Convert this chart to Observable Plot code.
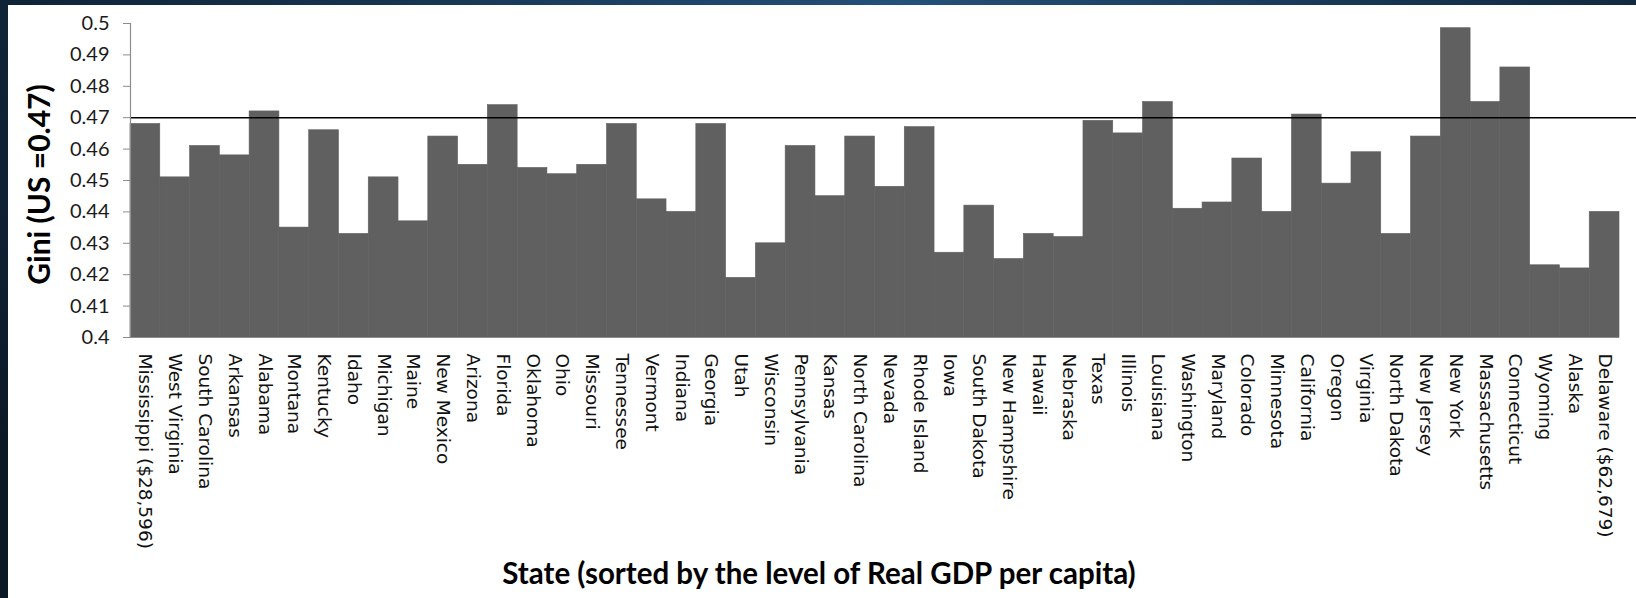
<!DOCTYPE html>
<html>
<head>
<meta charset="utf-8">
<script src="https://cdn.jsdelivr.net/npm/d3@7"></script>
<script src="https://cdn.jsdelivr.net/npm/@observablehq/plot@0.6"></script>
<style>
  html, body { margin: 0; padding: 0; }
  body {
    width: 1636px; height: 598px; overflow: hidden; position: relative;
    background: radial-gradient(ellipse 70% 120% at 55% 0%, #24507a 0%, #163450 45%, #0b1826 100%);
  }
  #panel { position: absolute; left: 8px; top: 5px; width: 1628px; height: 593px; background: #fff; }
</style>
</head>
<body>
<div id="panel"></div>
<script>
// States sorted by real GDP per capita (lowest to highest)
const states = [
  "Mississippi ($28,596)", "West Virginia", "South Carolina", "Arkansas", "Alabama",
  "Montana", "Kentucky", "Idaho", "Michigan", "Maine",
  "New Mexico", "Arizona", "Florida", "Oklahoma", "Ohio",
  "Missouri", "Tennessee", "Vermont", "Indiana", "Georgia",
  "Utah", "Wisconsin", "Pennsylvania", "Kansas", "North Carolina",
  "Nevada", "Rhode Island", "Iowa", "South Dakota", "New Hampshire",
  "Hawaii", "Nebraska", "Texas", "Illinois", "Louisiana",
  "Washington", "Maryland", "Colorado", "Minnesota", "California",
  "Oregon", "Virginia", "North Dakota", "New Jersey", "New York",
  "Massachusetts", "Connecticut", "Wyoming", "Alaska", "Delaware ($62,679)"
];

// Gini coefficient per state
const gini = [
  0.468, 0.451, 0.461, 0.458, 0.472,
  0.435, 0.466, 0.433, 0.451, 0.437,
  0.464, 0.455, 0.474, 0.454, 0.452,
  0.455, 0.468, 0.444, 0.440, 0.468,
  0.419, 0.430, 0.461, 0.445, 0.464,
  0.448, 0.467, 0.427, 0.442, 0.425,
  0.433, 0.432, 0.469, 0.465, 0.475,
  0.441, 0.443, 0.457, 0.440, 0.471,
  0.449, 0.459, 0.433, 0.464, 0.4985,
  0.475, 0.486, 0.423, 0.422, 0.440
];

// National reference level
const usGini = 0.47;

// Y axis ticks and their labels
const yTicks = [0.4, 0.41, 0.42, 0.43, 0.44, 0.45, 0.46, 0.47, 0.48, 0.49, 0.5];
const yTickLabels = ["0.4", "0.41", "0.42", "0.43", "0.44", "0.45", "0.46", "0.47", "0.48", "0.49", "0.5"];

const yTitle = "Gini (US =0.47)";
const xTitle = "State (sorted by the level of Real GDP per capita)";

const rows = states.map((state, i) => ({state, gini: gini[i]}));
const axisGray = "#8c8c8c";
const barGray = "#606060";

const chart = Plot.plot({
  width: 1628,
  height: 593,
  marginLeft: 122,
  marginRight: 17,
  marginTop: 18,
  marginBottom: 261,
  style: {background: "#ffffff", fontFamily: "Lato, sans-serif", overflow: "visible"},
  x: {domain: states, padding: 0, axis: null},
  y: {domain: [yTicks[0], yTicks[yTicks.length - 1]], axis: null},
  marks: [
    Plot.barY(rows, {x: "state", y1: yTicks[0], y2: "gini", fill: barGray, stroke: barGray, strokeWidth: 0.6}),
    Plot.ruleY([usGini], {stroke: "#000", strokeWidth: 1.6, insetRight: -17}),
    Plot.ruleY([yTicks[0]], {stroke: axisGray, strokeWidth: 1.2}),
    Plot.frame({anchor: "left", stroke: axisGray, strokeWidth: 1.2}),
    Plot.axisY({
      ticks: yTicks,
      tickFormat: (d) => yTickLabels[yTicks.indexOf(d)],
      tickSize: 7,
      tickPadding: 14,
      fontSize: 20,
      stroke: axisGray,
      fill: "#1a1a1a",
      label: null
    }),
    Plot.axisX({
      tickRotate: 90,
      tickSize: 0,
      tickPadding: 16,
      fontSize: 18.5,
      fontFamily: "DejaVu Sans",
      fill: "#111",
      label: null
    }),
    Plot.text([yTitle], {
      frameAnchor: "left", textAnchor: "middle", lineAnchor: "middle",
      dx: -90, dy: 4, rotate: -90, fontSize: 30, fontWeight: "bold", fill: "#000"
    }),
    Plot.text([xTitle], {
      frameAnchor: "bottom", textAnchor: "middle", lineAnchor: "middle",
      dx: -56, dy: 237, fontSize: 29.5, fontWeight: "bold", fill: "#000"
    })
  ]
});

document.getElementById("panel").appendChild(chart);
</script>
</body>
</html>
